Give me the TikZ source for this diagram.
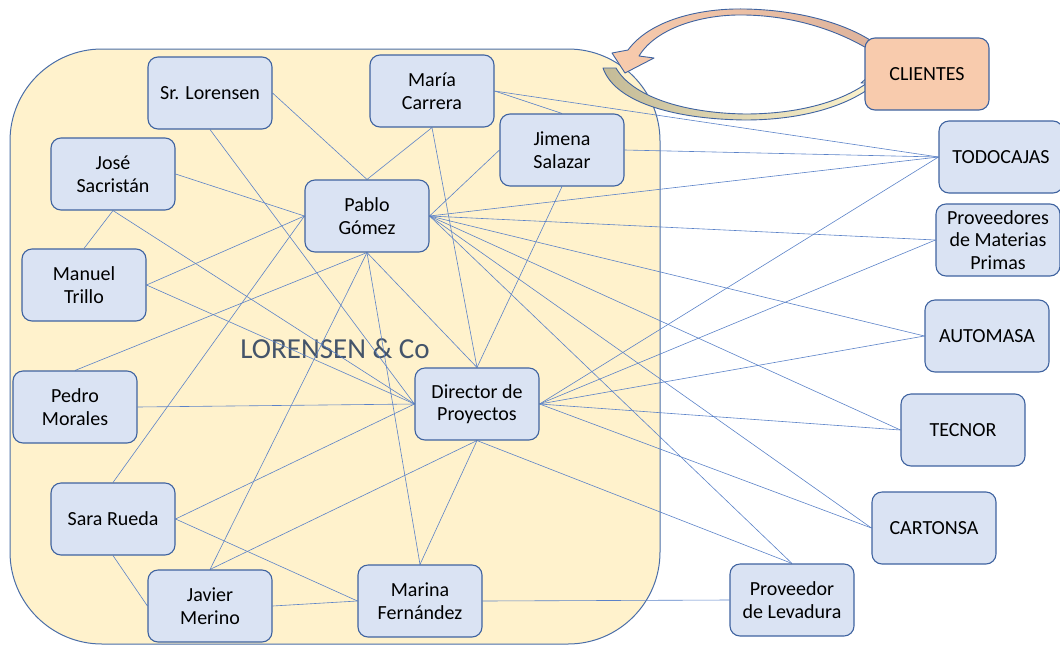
\documentclass[tikz,border=0pt]{standalone}
\usepackage{fontspec}
\setmainfont{Carlito}
\definecolor{boxfill}{HTML}{DAE3F3}
\definecolor{boxline}{HTML}{3F63A0}
\definecolor{linkc}{HTML}{5B82C8}
\definecolor{orgfill}{HTML}{FFF2CC}
\definecolor{orgline}{HTML}{4A6EA8}
\definecolor{peach}{HTML}{F8CBAD}
\definecolor{peachdark}{HTML}{DDB39C}
\definecolor{tanc}{HTML}{C4BB97}
\definecolor{paleyel}{HTML}{FFF6D0}
\definecolor{titlec}{HTML}{44546A}
\pgfdeclarelayer{back}
\pgfdeclarelayer{links}
\pgfsetlayers{back,links,main}
\tikzset{
  person/.style={draw=boxline, fill=boxfill, rounded corners=10pt,
    minimum width=124pt, minimum height=72pt, line width=1.1pt,
    align=center, inner sep=2pt, font=\fontsize{20}{22.5}\selectfont},
  client/.style={person, fill=peach},
  link/.style={draw=linkc, line width=0.6pt},
  bigarrow/.style={draw=boxline, line width=0.9pt, line join=round}
}
\begin{document}
\begin{tikzpicture}[x=1pt, y=-1pt]
\useasboundingbox (0,0) rectangle (1060,646);

% company container
\begin{pgfonlayer}{back}
\draw[fill=orgfill, draw=orgline, line width=1pt, rounded corners=92pt]
  (10,49) rectangle (660,644);
\node[text=titlec, font=\fontsize{29}{32}\selectfont] (title) at (335,349) {LORENSEN \& Co};
\end{pgfonlayer}

% returning arrow (bottom, towards CLIENTES)
\draw[bigarrow, left color=tanc, right color=paleyel]
  (603,68) -- (616,68)
  .. controls (632,96) and (682,113) .. (745,114)
  .. controls (800,114) and (842,101) .. (867,83)
  -- (861,83) -- (880,67) -- (889,81) -- (874,85)
  .. controls (846,107) and (800,120) .. (745,120)
  .. controls (668,119) and (614,100) .. (603,68) -- cycle;

% outgoing arrow (top, from CLIENTES)
\draw[bigarrow, left color=peach, right color=peachdark]
  (612,53) -- (628,50)
  .. controls (650,20) and (700,8) .. (745,9)
  .. controls (800,10) and (848,24) .. (876,44)
  -- (876,54)
  .. controls (846,34) and (800,16) .. (745,15)
  .. controls (702,14) and (656,28) .. (639,56)
  -- (654,58) -- (625,73) -- cycle;

% people
\node[person] (lor) at (210,93) {Sr. Lorensen};
\node[person] (car) at (432,91) {María\\Carrera};
\node[person] (jim) at (562,150) {Jimena\\Salazar};
\node[person] (jos) at (113,174) {José\\Sacristán};
\node[person] (pab) at (367,216) {Pablo\\Gómez};
\node[person] (man) at (84,285) {Manuel\\Trillo};
\node[person] (ped) at (75,407) {Pedro\\Morales};
\node[person] (dir) at (477,404) {Director de\\Proyectos};
\node[person] (sar) at (113,519) {Sara Rueda};
\node[person] (jav) at (210,606) {Javier\\Merino};
\node[person] (mar) at (420,601) {Marina\\Fernández};

% external partners
\node[client] (cli) at (927,74) {CLIENTES};
\node[person] (tod) at (1001,157) {TODOCAJAS};
\node[person] (pmp) at (998,240) {Proveedores\\de Materias\\Primas};
\node[person] (aut) at (987,336) {AUTOMASA};
\node[person] (tec) at (963,430) {TECNOR};
\node[person] (cat) at (934,528) {CARTONSA};
\node[person] (lev) at (792,600) {Proveedor\\de Levadura};

% relations
\begin{pgfonlayer}{links}
\draw[link] (lor.east) -- (pab.north);
\draw[link] (lor.south) -- (dir.west);
\draw[link] (car.south) -- (pab.north);
\draw[link] (car.south) -- (dir.north);
\draw[link] (car.east) -- (jim.north);
\draw[link] (car.east) -- (tod.west);
\draw[link] (jim.east) -- (tod.west);
\draw[link] (jim.west) -- (pab.east);
\draw[link] (jim.south) -- (dir.north);
\draw[link] (jos.east) -- (pab.west);
\draw[link] (jos.south) -- (man.north);
\draw[link] (jos.south) -- (dir.west);
\draw[link] (pab.west) -- (man.east);
\draw[link] (pab.west) -- (sar.north);
\draw[link] (pab.south) -- (ped.north);
\draw[link] (pab.south) -- (jav.north);
\draw[link] (pab.south) -- (mar.north);
\draw[link] (pab.south) -- (dir.north);
\foreach \t in {tod,pmp,aut,tec,cat}
  \draw[link] (pab.east) -- (\t.west);
\draw[link] (pab.east) -- (lev.north);
\draw[link] (man.east) -- (dir.west);
\draw[link] (ped.east) -- (dir.west);
\draw[link] (sar.east) -- (dir.west);
\draw[link] (sar.east) -- (mar.west);
\draw[link] (sar.south) -- (jav.west);
\draw[link] (jav.north) -- (dir.south);
\draw[link] (jav.east) -- (mar.west);
\draw[link] (mar.north) -- (dir.south);
\draw[link] (mar.east) -- (lev.west);
\foreach \t in {tod,pmp,aut,tec,cat}
  \draw[link] (dir.east) -- (\t.west);
\draw[link] (dir.south) -- (lev.north);
\end{pgfonlayer}
\end{tikzpicture}
\end{document}
